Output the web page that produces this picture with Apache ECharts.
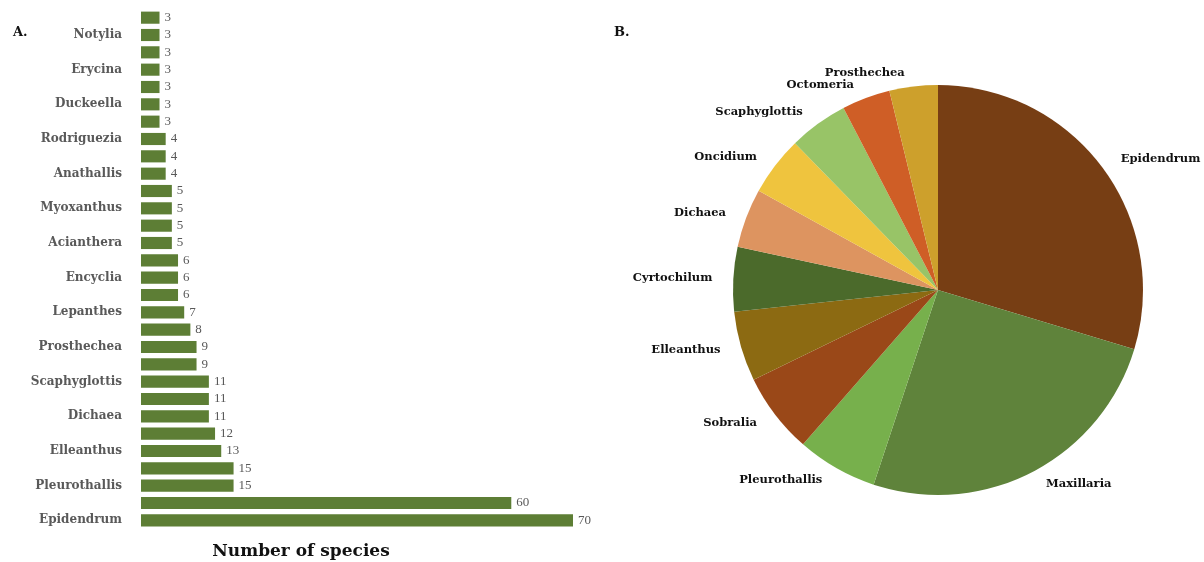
<!DOCTYPE html>
<html>
<head>
<meta charset="utf-8">
<script src="https://cdn.jsdelivr.net/npm/echarts@6/dist/echarts.min.js"></script>
<style>
  html, body { margin: 0; padding: 0; background: #fff; }
  #chart { width: 1204px; height: 562px; }
</style>
</head>
<body>
<div id="chart"></div>
<script>
// bar chart, bottom to top (unknown hidden labels left empty)
const barNames = ['Epidendrum', 'Maxillaria', 'Pleurothallis', 'Sobralia', 'Elleanthus', 'Cyrtochilum',
  'Dichaea', 'Oncidium', 'Scaphyglottis', 'Octomeria', 'Prosthechea', '', 'Lepanthes', '', 'Encyclia', '',
  'Acianthera', '', 'Myoxanthus', '', 'Anathallis', '', 'Rodriguezia', '', 'Duckeella', '', 'Erycina', '',
  'Notylia', ''];
const barValues = [70, 60, 15, 15, 13, 12, 11, 11, 11, 9, 9, 8, 7, 6, 6, 6, 5, 5, 5, 5, 4, 4, 4, 3, 3, 3, 3, 3, 3, 3];

// pie chart, clockwise from top
const pieNames = ['Epidendrum', 'Maxillaria', 'Pleurothallis', 'Sobralia', 'Elleanthus', 'Cyrtochilum',
  'Dichaea', 'Oncidium', 'Scaphyglottis', 'Octomeria', 'Prosthechea'];
const pieValues = [70, 60, 15, 15, 13, 12, 11, 11, 11, 9, 9];
const pieColors = ['#773e14', '#5f833b', '#77b04c', '#9a4818', '#8c6a12', '#4b6a2b',
  '#dd9460', '#efc43e', '#98c467', '#cf5e26', '#cda02c'];

const serif = '"Liberation Serif", "Times New Roman", serif';
const wideSerif = '"DejaVu Serif", serif';

const chart = echarts.init(document.getElementById('chart'));

const option = {
  backgroundColor: '#fff',
  animation: false,
  textStyle: { fontFamily: serif },
  title: [
    { text: 'A.', left: 8, top: 21, textStyle: { fontFamily: wideSerif, fontSize: 13, fontWeight: 'bold', color: '#111' } },
    { text: 'B.', left: 609, top: 21, textStyle: { fontFamily: wideSerif, fontSize: 13, fontWeight: 'bold', color: '#111' } },
    { text: 'Number of species', left: 296, top: 538, textAlign: 'center',
      textStyle: { fontFamily: wideSerif, fontSize: 17, fontWeight: 'bold', color: '#111' } }
  ],
  grid: { left: 141, width: 432, top: 9, height: 520 },
  xAxis: {
    type: 'value',
    min: 0,
    max: 70,
    show: false
  },
  yAxis: {
    type: 'category',
    data: barNames,
    axisLine: { show: false },
    axisTick: { show: false },
    axisLabel: {
      interval: 1,
      margin: 19,
      fontFamily: wideSerif,
      fontSize: 12,
      fontWeight: 'bold',
      color: '#595959'
    }
  },
  series: [
    {
      type: 'bar',
      data: barValues,
      barCategoryGap: '30%',
      itemStyle: { color: '#5d7e35' },
      label: {
        show: true,
        position: 'right',
        distance: 5,
        fontFamily: serif,
        fontSize: 13,
        color: '#595959'
      }
    },
    {
      type: 'pie',
      center: [938, 290],
      radius: 205,
      startAngle: 90,
      clockwise: true,
      avoidLabelOverlap: false,
      data: pieNames.map((n, i) => ({ name: n, value: pieValues[i], itemStyle: { color: pieColors[i] } })),
      label: {
        show: true,
        position: 'outside',
        fontFamily: wideSerif,
        fontSize: 11.5,
        fontWeight: 'bold',
        color: '#111'
      },
      labelLine: { show: false, length: 14, length2: 2 }
    }
  ]
};

chart.setOption(option);
</script>
</body>
</html>
